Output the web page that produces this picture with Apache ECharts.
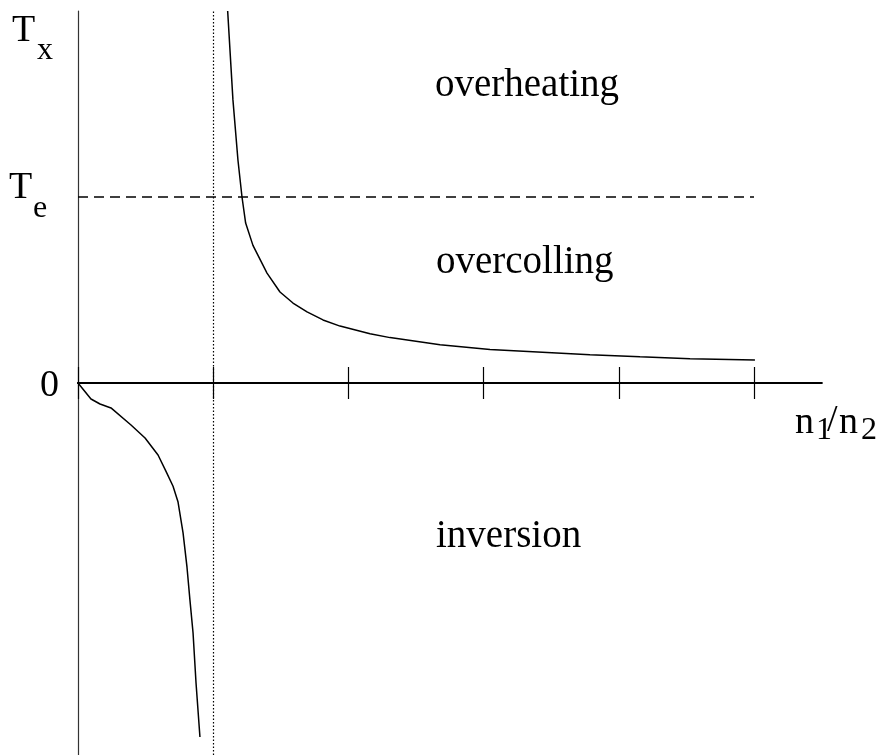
<!DOCTYPE html>
<html>
<head>
<meta charset="utf-8">
<script src="https://cdn.jsdelivr.net/npm/echarts@6/dist/echarts.min.js"></script>
<style>
  html, body { margin: 0; padding: 0; background: #fff; }
  #chart { width: 883px; height: 755px; }
</style>
</head>
<body>
<div id="chart"></div>
<script>
// curve below the axis (0 < n1/n2 < 1)
const lowX = [0, 0.096, 0.163, 0.244, 0.392, 0.496, 0.592, 0.651, 0.703, 0.740, 0.777, 0.806, 0.828, 0.851, 0.873, 0.902];
const lowY = [0, -0.086, -0.113, -0.134, -0.226, -0.296, -0.387, -0.475, -0.555, -0.640, -0.806, -0.989, -1.167, -1.344, -1.613, -1.903];
// curve above the axis (n1/n2 > 1)
const highX = [1.107, 1.146, 1.183, 1.213, 1.240, 1.294, 1.398, 1.494, 1.590, 1.694, 1.812, 1.938, 2.160, 2.308, 2.678, 3.047, 3.787, 4.157, 4.527, 5.007];
const highY = [2.000, 1.522, 1.199, 1.000, 0.860, 0.740, 0.591, 0.489, 0.430, 0.382, 0.339, 0.306, 0.265, 0.244, 0.206, 0.180, 0.152, 0.141, 0.131, 0.124];

const xTicks = [0, 1, 2, 3, 4, 5];
const asymptoteX = 1;
const teLevel = 1;
const regionNames = ['overheating', 'overcolling', 'inversion'];

const serif = '"Liberation Serif", "DejaVu Serif", serif';

function zip(xs, ys) {
  return xs.map((x, i) => [x, ys[i]]);
}

function txt(str, x, y, size) {
  return {
    type: 'text',
    x: x,
    y: y,
    silent: true,
    style: {
      text: str,
      font: size + 'px ' + serif,
      fill: '#000',
      verticalAlign: 'middle'
    }
  };
}

const chart = echarts.init(document.getElementById('chart'));

const gridBox = { left: 78, right: 61.4, top: 11, bottom: 0 };

// x axis drawn twice (second grid) so the ticks stick out on both sides
function xAxisAt(gridIndex, inside) {
  return {
    type: 'value',
    gridIndex: gridIndex,
    position: 'bottom',
    min: 0,
    max: 5.5,
    interval: 1,
    axisLine: { onZero: true, lineStyle: { color: '#000', width: 2 } },
    axisTick: { show: true, inside: inside, length: 16, customValues: xTicks, lineStyle: { color: '#000', width: 1.2 } },
    axisLabel: { show: false },
    splitLine: { show: false }
  };
}

function yAxisAt(gridIndex, visible) {
  return {
    type: 'value',
    gridIndex: gridIndex,
    min: -2,
    max: 2,
    interval: 1,
    axisLine: { show: visible, onZero: false, lineStyle: { color: '#333', width: 1.2 } },
    axisTick: { show: false },
    axisLabel: { show: false },
    splitLine: { show: false }
  };
}

const option = {
  animation: false,
  backgroundColor: '#fff',
  grid: [gridBox, gridBox],
  xAxis: [xAxisAt(0, false), xAxisAt(1, true)],
  yAxis: [yAxisAt(0, true), yAxisAt(1, false)],
  series: [
    {
      type: 'line',
      data: zip(highX, highY),
      showSymbol: false,
      lineStyle: { color: '#000', width: 1.5 },
      silent: true,
      markLine: {
        silent: true,
        symbol: 'none',
        label: { show: false },
        data: [
          { xAxis: asymptoteX, lineStyle: { type: [1.5, 2], color: '#000', width: 1.2 } },
          [
            { coord: [0, teLevel], lineStyle: { type: [10, 6], color: '#000', width: 1.5 } },
            { coord: [xTicks[xTicks.length - 1], teLevel] }
          ]
        ]
      }
    },
    {
      type: 'line',
      data: zip(lowX, lowY),
      showSymbol: false,
      lineStyle: { color: '#000', width: 1.5 },
      silent: true
    }
  ],
  graphic: [
    // y axis name T_x
    txt('T', 12, 31, 38),
    txt('x', 37, 51, 32),
    // T_e at the dashed level
    txt('T', 9, 188, 38),
    txt('e', 33, 209, 32),
    // origin
    txt('0', 40, 386, 38),
    // x axis name n1/n2
    txt('n', 795, 423, 38),
    txt('1', 816, 431, 32),
    txt('/', 827, 421, 38),
    txt('n', 839, 423, 38),
    txt('2', 861, 431, 32),
    // regions
    txt(regionNames[0], 435, 86, 39),
    txt(regionNames[1], 436, 263, 39),
    txt(regionNames[2], 436, 537, 39)
  ]
};

chart.setOption(option);
</script>
</body>
</html>
